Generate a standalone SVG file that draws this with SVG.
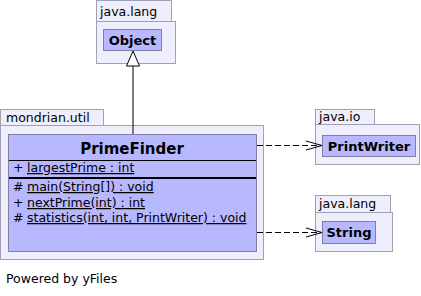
<svg xmlns="http://www.w3.org/2000/svg" width="421" height="296" viewBox="0 0 421 296">
  <style>
    .pkg { fill: #eeeefc; stroke: #a0a0b4; stroke-width: 1; }
    .cls { fill: #b8b8ff; stroke: #8080a4; stroke-width: 1; }
    .lbl { font-family: "DejaVu Sans", sans-serif; font-size: 12.5px; fill: #000; }
    .name { font-family: "DejaVu Sans", sans-serif; font-weight: bold; fill: #000; text-anchor: middle; }
    .dep { fill: none; stroke: #000; stroke-width: 1; stroke-dasharray: 6 3; }
    .head { fill: none; stroke: #000; stroke-width: 1; }
  </style>
  <rect width="421" height="296" fill="#fff"/>

  <!-- java.lang package with Object -->
  <g id="pkg-java-lang-top">
    <rect class="pkg" x="96.5" y="0.5" width="75" height="21"/>
    <rect class="pkg" x="96.5" y="21.5" width="79" height="42"/>
    <text class="lbl" x="100" y="16">java.lang</text>
  </g>
  <g id="cls-object">
    <rect class="cls" x="103.5" y="29.5" width="58" height="21"/>
    <text class="name" x="132.5" y="45" font-size="13">Object</text>
  </g>

  <!-- mondrian.util package with PrimeFinder -->
  <g id="pkg-mondrian-util">
    <rect class="pkg" x="0.5" y="109.5" width="103" height="16"/>
    <rect class="pkg" x="0.5" y="125.5" width="263" height="134"/>
    <text class="lbl" x="6" y="122">mondrian.util</text>
  </g>
  <g id="cls-primefinder">
    <rect class="cls" x="8.5" y="134.5" width="248" height="117"/>
    <text class="name" x="132" y="154" font-size="15">PrimeFinder</text>
    <line x1="9" y1="160.5" x2="256" y2="160.5" stroke="#000"/>
    <text class="lbl" x="13" y="172">+</text>
    <text class="lbl" x="27" y="172" text-decoration="underline">largestPrime : int</text>
    <line x1="9" y1="178" x2="256" y2="178" stroke="#000" stroke-width="2"/>
    <text class="lbl" x="13" y="191">#</text>
    <text class="lbl" x="27" y="191" text-decoration="underline">main(String[]) : void</text>
    <text class="lbl" x="13" y="207">+</text>
    <text class="lbl" x="27" y="207" text-decoration="underline">nextPrime(int) : int</text>
    <text class="lbl" x="13" y="222">#</text>
    <text class="lbl" x="27" y="222" text-decoration="underline">statistics(int, int, PrintWriter) : void</text>
  </g>

  <!-- java.io package with PrintWriter -->
  <g id="pkg-java-io">
    <rect class="pkg" x="315.5" y="109.5" width="59" height="15"/>
    <rect class="pkg" x="315.5" y="124.5" width="104" height="40"/>
    <text class="lbl" x="319" y="121">java.io</text>
  </g>
  <g id="cls-printwriter">
    <rect class="cls" x="322.5" y="135.5" width="93" height="21"/>
    <text class="name" x="369" y="151" font-size="13">PrintWriter</text>
  </g>

  <!-- java.lang package with String -->
  <g id="pkg-java-lang-bottom">
    <rect class="pkg" x="315.5" y="195.5" width="75" height="17"/>
    <rect class="pkg" x="315.5" y="212.5" width="77" height="39"/>
    <text class="lbl" x="319" y="208">java.lang</text>
  </g>
  <g id="cls-string">
    <rect class="cls" x="322.5" y="221.5" width="53" height="22"/>
    <text class="name" x="349" y="237" font-size="13">String</text>
  </g>

  <!-- connectors -->
  <g id="connectors">
    <line x1="133" y1="134" x2="133" y2="66" stroke="#000"/>
    <polygon points="133,51 126.5,66 139.5,66" fill="#fff" stroke="#000"/>
    <line class="dep" x1="257" y1="145.5" x2="321" y2="145.5"/>
    <polyline class="head" points="306,141 322,145.5 306,150"/>
    <line class="dep" x1="257" y1="232.5" x2="321" y2="232.5"/>
    <polyline class="head" points="306,228 322,232.5 306,237"/>
  </g>

  <text class="lbl" x="6" y="283">Powered by yFiles</text>
</svg>
